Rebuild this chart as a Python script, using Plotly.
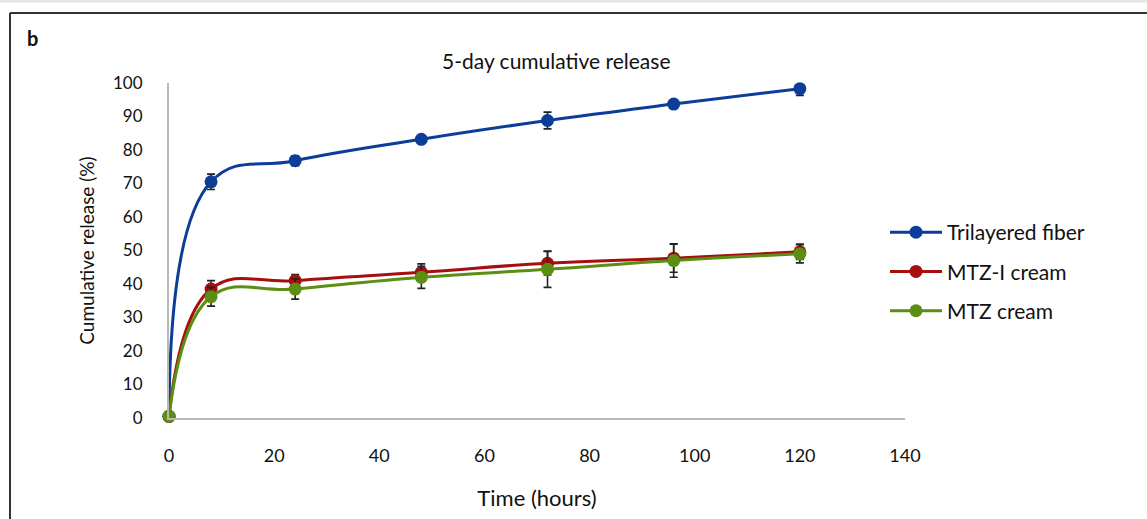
import plotly.graph_objects as go

# ---- data ----
times = [0, 8, 24, 48, 72, 96, 120]
fiber = [0.5, 70.5, 76.8, 83.2, 88.8, 93.7, 98.3]
fiber_err = [0, 2.3, 1.5, 1.0, 2.5, 1.0, 2.0]
mtzi = [0.5, 38.5, 41.0, 43.5, 46.2, 47.7, 49.6]
mtzi_err = [0, 2.5, 1.8, 2.5, 3.5, 4.2, 2.3]
mtz = [0.5, 36.2, 38.5, 42.0, 44.4, 47.0, 49.0]
mtz_err = [0, 2.8, 3.0, 3.3, 5.4, 5.0, 2.7]

series_names = ["Trilayered fiber", "MTZ-I cream", "MTZ cream"]
series_vals = [fiber, mtzi, mtz]
series_errs = [fiber_err, mtzi_err, mtz_err]
colors = ["#0B3D99", "#A50F0F", "#5B8E12"]

x_ticks = [0, 20, 40, 60, 80, 100, 120, 140]
y_ticks = [0, 10, 20, 30, 40, 50, 60, 70, 80, 90, 100]

FONT = "Lato, 'Open Sans', sans-serif"

fig = go.Figure()
for name, vals, errs, col in zip(series_names, series_vals, series_errs, colors):
    fig.add_trace(go.Scatter(
        x=times, y=vals, name=name, legendgroup=name,
        mode="lines+markers",
        line=dict(color=col, width=3, shape="spline", smoothing=1.2),
        marker=dict(color=col, size=13),
        error_y=dict(type="data", array=errs, visible=True,
                     color="#222222", thickness=1.6, width=4),
        cliponaxis=False,
    ))

L, R, T, B = 169, 905, 83, 418
W, H = 1147, 519
def px(x):
    return (x - L) / (R - L)
def py(y):
    return (B - y) / (B - T)

fig.update_layout(
    width=W, height=H,
    margin=dict(l=L, r=W - R, t=T, b=H - B),
    paper_bgcolor="white", plot_bgcolor="white",
    font=dict(family=FONT, size=17, color="#111111"),
    showlegend=True,
    legend=dict(x=px(885), y=py(212), xanchor="left", yanchor="top",
                font=dict(size=21), itemwidth=52, tracegroupgap=9,
                bgcolor="rgba(0,0,0,0)"),
    xaxis=dict(range=[0, 140], tickvals=x_ticks, showgrid=False, zeroline=False,
               showline=True, linecolor="#B8B8B8", linewidth=2, ticks="",
               ticklabelstandoff=20, tickfont=dict(size=18), automargin=False,
               title=dict(text="Time (hours)", font=dict(size=22), standoff=26)),
    yaxis=dict(range=[0, 100], tickvals=y_ticks, showgrid=False, zeroline=False,
               showline=True, linecolor="#B8B8B8", linewidth=2, ticks="",
               ticklabelstandoff=21, tickfont=dict(size=17), automargin=False,
               title=dict(text="Cumulative release (%)", font=dict(size=19), standoff=13)),
    annotations=[
        dict(text="5-day cumulative release", x=px(556), y=py(60), xref="paper", yref="paper",
             xanchor="center", yanchor="middle", showarrow=False, font=dict(size=21)),
        dict(text="<b>b</b>", x=px(32), y=py(38), xref="paper", yref="paper",
             xanchor="center", yanchor="middle", showarrow=False, font=dict(size=20)),
    ],
    shapes=[
        dict(type="line", xref="paper", yref="paper", x0=px(10), x1=px(1160), y0=py(13), y1=py(13),
             line=dict(color="#333333", width=2)),
        dict(type="line", xref="paper", yref="paper", x0=px(10), x1=px(10), y0=py(13), y1=py(530),
             line=dict(color="#333333", width=2)),
        dict(type="rect", xref="paper", yref="paper", x0=px(-5), x1=px(1160), y0=py(-5), y1=py(2.5),
             line=dict(width=0), fillcolor="#E6E6E6"),
    ],
)

fig.write_html("out.html",
               config={"displayModeBar": False},
               post_script="document.body.style.margin='0';document.body.style.padding='0';")
